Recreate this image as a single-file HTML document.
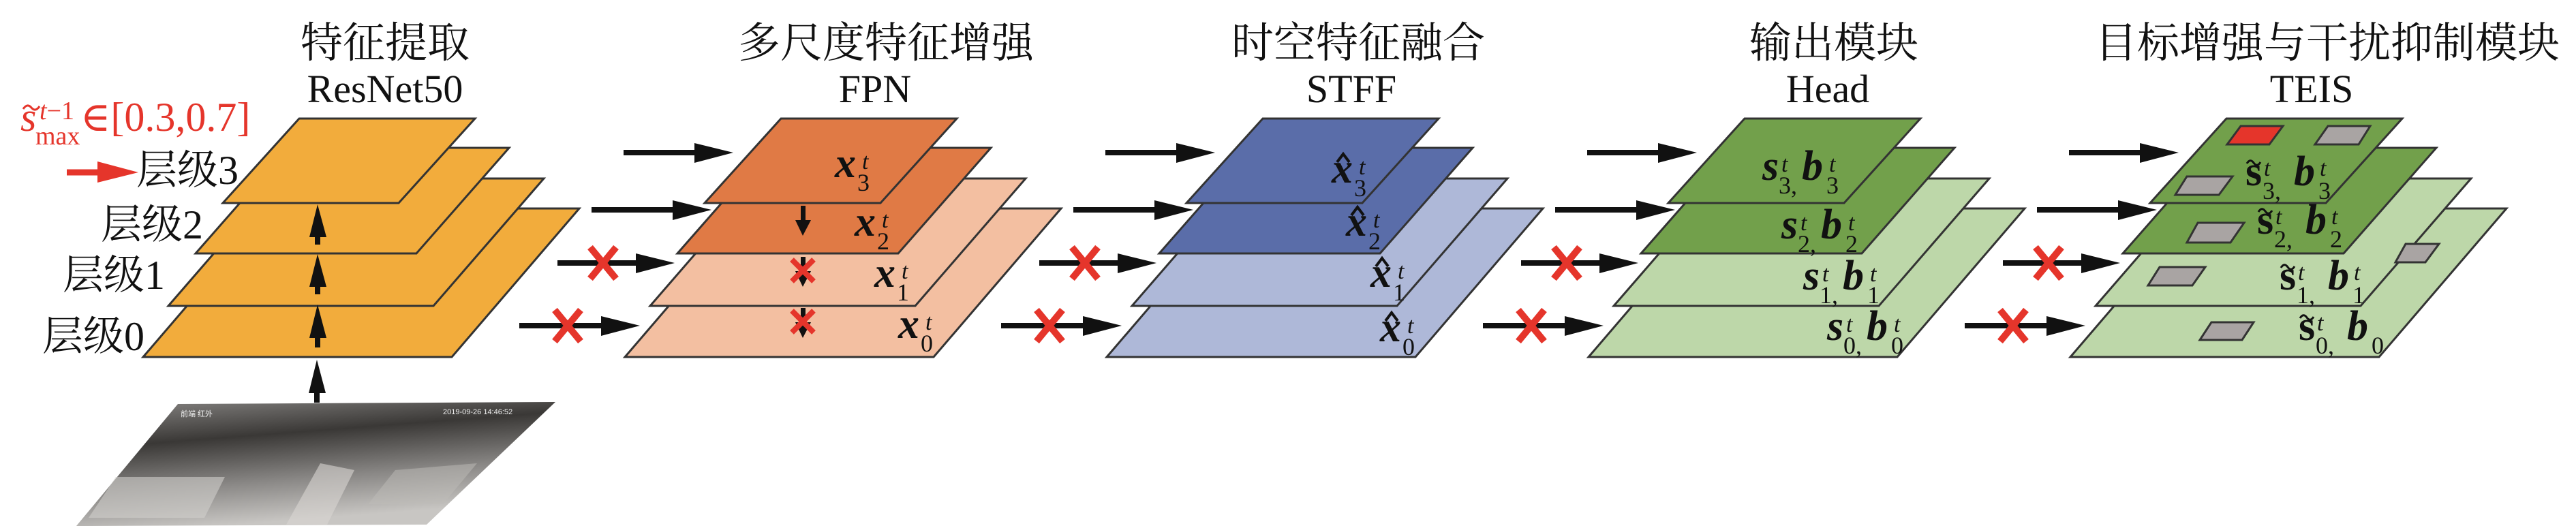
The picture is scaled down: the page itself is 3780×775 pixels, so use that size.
<!DOCTYPE html>
<html><head><meta charset="utf-8">
<style>
html,body{margin:0;padding:0;background:#fff;}
svg{display:block;}
</style></head>
<body>
<svg width="3780" height="775" viewBox="0 0 3780 775" xmlns="http://www.w3.org/2000/svg">
<defs>
  <linearGradient id="ph" x1="0" y1="0" x2="0.3" y2="1">
    <stop offset="0" stop-color="#8a8886"/>
    <stop offset="0.35" stop-color="#3a3836"/>
    <stop offset="0.7" stop-color="#8a8886"/>
    <stop offset="1" stop-color="#c8c6c3"/>
  </linearGradient>
  <g id="harrows">
    <line x1="915" y1="224" x2="1022" y2="224" stroke="#111" stroke-width="8"/>
    <polygon points="1019,210 1076,224 1019,239" fill="#111"/>
    <line x1="868" y1="308" x2="990" y2="308" stroke="#111" stroke-width="8"/>
    <polygon points="987,294 1044,308 987,323" fill="#111"/>
    <line x1="818" y1="386" x2="936" y2="386" stroke="#111" stroke-width="8"/>
    <polygon points="933,372 990,386 933,401" fill="#111"/>
    <line x1="762" y1="478" x2="885" y2="478" stroke="#111" stroke-width="8"/>
    <polygon points="882,464 939,478 882,493" fill="#111"/>
    <g stroke="#E5352B" stroke-width="10">
      <line x1="866" y1="363" x2="904" y2="409"/><line x1="904" y1="363" x2="866" y2="409"/>
      <line x1="814" y1="455" x2="852" y2="501"/><line x1="852" y1="455" x2="814" y2="501"/>
    </g>
  </g>
</defs>

<!-- Titles -->
<g font-family="'Liberation Serif','Noto Serif CJK SC','DejaVu Serif',serif" fill="#111" text-anchor="middle">
  <text x="565" y="84" font-size="62">特征提取</text>
  <text x="565" y="150" font-size="58">ResNet50</text>
  <text x="1300" y="84" font-size="62">多尺度特征增强</text>
  <text x="1284" y="150" font-size="58">FPN</text>
  <text x="1993" y="84" font-size="62">时空特征融合</text>
  <text x="1983" y="150" font-size="58">STFF</text>
  <text x="2691" y="84" font-size="62">输出模块</text>
  <text x="2682" y="150" font-size="58">Head</text>
  <text x="3415" y="84" font-size="62">目标增强与干扰抑制模块</text>
  <text x="3392" y="150" font-size="58">TEIS</text>
</g>

<!-- Red label -->
<g fill="#E5352B" font-family="'Liberation Serif','DejaVu Serif',serif">
  <text x="30" y="192" font-size="60" font-style="italic">s</text>
  <path d="M34,160 q6,-9 12,-2 t12,-2" stroke="#E5352B" stroke-width="3" fill="none"/>
  <text x="58" y="175" font-size="38"><tspan font-style="italic">t</tspan>−1</text>
  <text x="52" y="212" font-size="38">max</text>
  <text x="118" y="192" font-size="60">∈[0.3,0.7]</text>
  <line x1="98" y1="253" x2="146" y2="253" stroke="#E5352B" stroke-width="9"/>
  <polygon points="143,237 203,253 143,268"/>
</g>

<!-- Level labels -->
<g font-family="'Liberation Serif','Noto Serif CJK SC','DejaVu Serif',serif" fill="#111" font-size="60">
  <text x="200" y="270">层级3</text>
  <text x="148" y="350">层级2</text>
  <text x="92" y="424">层级1</text>
  <text x="62" y="514">层级0</text>
</g>

<!-- Photo -->
<polygon points="261,593 815,590 626,770 112,772" fill="url(#ph)"/>
<polygon points="130,760 170,700 330,700 300,760" fill="#d0cecb" opacity="0.6"/>
<polygon points="420,770 470,680 520,690 480,770" fill="#d8d6d2" opacity="0.6"/>
<polygon points="540,740 580,690 700,680 650,740" fill="#bdbbb8" opacity="0.5"/>
<text x="265" y="611" font-size="11" fill="#eee" font-family="'Liberation Sans','Noto Sans CJK SC',sans-serif">前端 红外</text>
<text x="650" y="608" font-size="11" fill="#eee" font-family="'Liberation Sans',sans-serif">2019-09-26 14:46:52</text>

<!-- Block 1: ResNet -->
<g stroke="#333" stroke-width="3" fill="#F2AC3C">
  <polygon points="397,306 850,306 663,524 210,524"/>
  <polygon points="409,262 798,262 636,449 247,449"/>
  <polygon points="423,217 747,217 611,372 287,372"/>
  <polygon points="439,174 697,174 585,298 327,298"/>
</g>
<g fill="#111">
  <rect x="462" y="345" width="8" height="14"/><polygon points="454,348 466,300 479,348"/>
  <rect x="462" y="418" width="8" height="14"/><polygon points="454,421 466,373 479,421"/>
  <rect x="462" y="493" width="8" height="17"/><polygon points="454,496 466,447 479,496"/>
  <rect x="461" y="574" width="8" height="17"/><polygon points="453,577 465,528 478,577"/>
</g>

<!-- Block 2: FPN -->
<g transform="translate(707,0)" stroke="#333" stroke-width="3">
  <polygon points="397,306 850,306 663,524 210,524" fill="#F3BFA1"/>
  <polygon points="409,262 798,262 636,449 247,449" fill="#F3BFA1"/>
  <polygon points="423,217 747,217 611,372 287,372" fill="#E07A45"/>
  <polygon points="439,174 697,174 585,298 327,298" fill="#E07A45"/>
</g>
<g fill="#111">
  <rect x="1175" y="302" width="7" height="24"/><polygon points="1167,323 1178,346 1190,323"/>
  <rect x="1175" y="377" width="7" height="24"/><polygon points="1167,398 1178,421 1190,398"/>
  <rect x="1175" y="452" width="7" height="24"/><polygon points="1167,473 1178,496 1190,473"/>
</g>
<g stroke="#E5352B" stroke-width="8">
  <line x1="1162" y1="381" x2="1194" y2="413"/><line x1="1194" y1="381" x2="1162" y2="413"/>
  <line x1="1162" y1="456" x2="1194" y2="488"/><line x1="1194" y1="456" x2="1162" y2="488"/>
</g>
<use href="#harrows"/>

<g font-family="'Liberation Serif','DejaVu Serif',serif" fill="#111">
<g font-size="62" font-weight="bold" font-style="italic">
  <text x="1225" y="260">x</text><text x="1254" y="346">x</text><text x="1283" y="421">x</text><text x="1318" y="496">x</text>
  <text x="1954" y="268">x</text><text x="1975" y="346">x</text><text x="2011" y="421">x</text><text x="2025" y="501">x</text>
  <text x="2586" y="264">s</text><text x="2644" y="264">b</text>
  <text x="2614" y="350">s</text><text x="2672" y="350">b</text>
  <text x="2646" y="425">s</text><text x="2704" y="425">b</text>
  <text x="2681" y="499">s</text><text x="2739" y="499">b</text>
  <text x="3366" y="272">b</text><text x="3383" y="343">b</text><text x="3416" y="425">b</text><text x="3444" y="499">b</text>
</g>
<g font-size="62" font-weight="bold">
  <text x="3295" y="272">s</text><text x="3312" y="343">s</text><text x="3345" y="425">s</text><text x="3373" y="499">s</text>
</g>
<g font-size="34" font-style="italic">
  <text x="1265" y="248">t</text><text x="1294" y="334">t</text><text x="1323" y="409">t</text><text x="1358" y="484">t</text>
  <text x="1994" y="256">t</text><text x="2015" y="334">t</text><text x="2051" y="409">t</text><text x="2065" y="489">t</text>
  <text x="2614" y="252">t</text><text x="2684" y="252">t</text>
  <text x="2642" y="338">t</text><text x="2712" y="338">t</text>
  <text x="2674" y="413">t</text><text x="2744" y="413">t</text>
  <text x="2709" y="487">t</text><text x="2779" y="487">t</text>
  <text x="3322" y="258">t</text><text x="3404" y="258">t</text>
  <text x="3339" y="329">t</text><text x="3421" y="329">t</text>
  <text x="3372" y="411">t</text><text x="3454" y="411">t</text>
  <text x="3400" y="485">t</text>
</g>
<g font-size="36">
  <text x="1258" y="280">3</text><text x="1287" y="366">2</text><text x="1316" y="441">1</text><text x="1351" y="516">0</text>
  <text x="1987" y="288">3</text><text x="2008" y="366">2</text><text x="2044" y="441">1</text><text x="2058" y="521">0</text>
  <text x="2610" y="284">3,</text><text x="2680" y="284">3</text>
  <text x="2638" y="370">2,</text><text x="2708" y="370">2</text>
  <text x="2670" y="445">1,</text><text x="2740" y="445">1</text>
  <text x="2705" y="519">0,</text><text x="2775" y="519">0</text>
  <text x="3320" y="292">3,</text><text x="3402" y="292">3</text>
  <text x="3337" y="363">2,</text><text x="3419" y="363">2</text>
  <text x="3370" y="445">1,</text><text x="3452" y="445">1</text>
  <text x="3398" y="519">0,</text><text x="3480" y="519">0</text>
</g>
</g>
<g fill="none" stroke="#111" stroke-width="4">
  <polyline points="1962,238 1971,226 1980,238"/>
  <polyline points="1983,316 1992,304 2001,316"/>
  <polyline points="2019,391 2028,379 2037,391"/>
  <polyline points="2033,471 2042,459 2051,471"/>
</g>

<!-- Block 3: STFF -->
<g transform="translate(1414,0)" stroke="#333" stroke-width="3">
  <polygon points="397,306 850,306 663,524 210,524" fill="#AEB8D8"/>
  <polygon points="409,262 798,262 636,449 247,449" fill="#AEB8D8"/>
  <polygon points="423,217 747,217 611,372 287,372" fill="#5A6DA9"/>
  <polygon points="439,174 697,174 585,298 327,298" fill="#5A6DA9"/>
</g>
<use href="#harrows" transform="translate(707,0)"/>

<!-- Block 4: Head -->
<g transform="translate(2121,0)" stroke="#333" stroke-width="3">
  <polygon points="397,306 850,306 663,524 210,524" fill="#BDD7A9"/>
  <polygon points="409,262 798,262 636,449 247,449" fill="#BDD7A9"/>
  <polygon points="423,217 747,217 611,372 287,372" fill="#72A04B"/>
  <polygon points="439,174 697,174 585,298 327,298" fill="#72A04B"/>
</g>
<use href="#harrows" transform="translate(1414,0)"/>

<!-- Block 5: TEIS -->
<g transform="translate(2828,0)" stroke="#333" stroke-width="3">
  <polygon points="397,306 850,306 663,524 210,524" fill="#BDD7A9"/>
  <polygon points="409,262 798,262 636,449 247,449" fill="#BDD7A9"/>
</g>
<g stroke="#333" stroke-width="3" fill="#A9A4A3">
  <polygon points="3530,358 3579,358 3559,385 3515,385"/>
  <polygon points="3169,392 3236,392 3217,419 3152,419"/>
  <polygon points="3245,473 3307,473 3290,499 3228,499"/>
</g>
<g transform="translate(2828,0)" stroke="#333" stroke-width="3">
  <polygon points="423,217 747,217 611,372 287,372" fill="#72A04B"/>
</g>
<polygon points="3225,327 3293,327 3273,356 3209,356" fill="#A9A4A3" stroke="#333" stroke-width="3"/>
<g transform="translate(2828,0)" stroke="#333" stroke-width="3">
  <polygon points="439,174 697,174 585,298 327,298" fill="#72A04B"/>
</g>
<g stroke="#333" stroke-width="3">
  <polygon points="3288,185 3350,185 3330,212 3268,212" fill="#E5352B"/>
  <polygon points="3416,185 3478,185 3461,212 3397,212" fill="#A9A4A3"/>
  <polygon points="3209,259 3276,259 3256,286 3192,286" fill="#A9A4A3"/>
</g>
<use href="#harrows" transform="translate(2121,0)"/>

<!-- redraw labels above layers -->
<g font-family="'Liberation Serif','DejaVu Serif',serif" fill="#111">
<g font-size="62" font-weight="bold" font-style="italic">
  <text x="1954" y="268">x</text><text x="1975" y="346">x</text><text x="2011" y="421">x</text><text x="2025" y="501">x</text>
  <text x="2586" y="264">s</text><text x="2644" y="264">b</text>
  <text x="2614" y="350">s</text><text x="2672" y="350">b</text>
  <text x="2646" y="425">s</text><text x="2704" y="425">b</text>
  <text x="2681" y="499">s</text><text x="2739" y="499">b</text>
  <text x="3366" y="272">b</text><text x="3383" y="343">b</text><text x="3416" y="425">b</text><text x="3444" y="499">b</text>
</g>
<g font-size="62" font-weight="bold">
  <text x="3295" y="272">s</text><text x="3312" y="343">s</text><text x="3345" y="425">s</text><text x="3373" y="499">s</text>
</g>
<g font-size="34" font-style="italic">
  <text x="1994" y="256">t</text><text x="2015" y="334">t</text><text x="2051" y="409">t</text><text x="2065" y="489">t</text>
  <text x="2614" y="252">t</text><text x="2684" y="252">t</text>
  <text x="2642" y="338">t</text><text x="2712" y="338">t</text>
  <text x="2674" y="413">t</text><text x="2744" y="413">t</text>
  <text x="2709" y="487">t</text><text x="2779" y="487">t</text>
  <text x="3322" y="258">t</text><text x="3404" y="258">t</text>
  <text x="3339" y="329">t</text><text x="3421" y="329">t</text>
  <text x="3372" y="411">t</text><text x="3454" y="411">t</text>
  <text x="3400" y="485">t</text>
</g>
<g font-size="36">
  <text x="1987" y="288">3</text><text x="2008" y="366">2</text><text x="2044" y="441">1</text><text x="2058" y="521">0</text>
  <text x="2610" y="284">3,</text><text x="2680" y="284">3</text>
  <text x="2638" y="370">2,</text><text x="2708" y="370">2</text>
  <text x="2670" y="445">1,</text><text x="2740" y="445">1</text>
  <text x="2705" y="519">0,</text><text x="2775" y="519">0</text>
  <text x="3320" y="292">3,</text><text x="3402" y="292">3</text>
  <text x="3337" y="363">2,</text><text x="3419" y="363">2</text>
  <text x="3370" y="445">1,</text><text x="3452" y="445">1</text>
  <text x="3398" y="519">0,</text><text x="3480" y="519">0</text>
</g>
</g>
<g fill="none" stroke="#111" stroke-width="4">
  <polyline points="1962,238 1971,226 1980,238"/>
  <polyline points="1983,316 1992,304 2001,316"/>
  <polyline points="2019,391 2028,379 2037,391"/>
  <polyline points="2033,471 2042,459 2051,471"/>
</g>
<g fill="none" stroke="#111" stroke-width="3">
  <path d="M3297,240 q5,-8 10,-1 t10,-1"/>
  <path d="M3314,311 q5,-8 10,-1 t10,-1"/>
  <path d="M3347,393 q5,-8 10,-1 t10,-1"/>
  <path d="M3375,467 q5,-8 10,-1 t10,-1"/>
</g>
</svg>
</body></html>
